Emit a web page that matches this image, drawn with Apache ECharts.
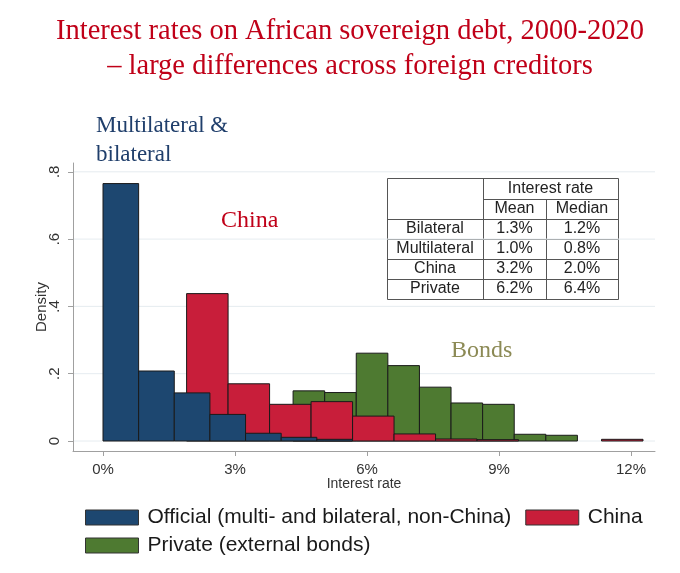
<!DOCTYPE html>
<html>
<head>
<meta charset="utf-8">
<script src="https://cdn.jsdelivr.net/npm/echarts@6/dist/echarts.min.js"></script>
<style>
  html, body { margin: 0; padding: 0; background: #fff; }
  #chart { width: 680px; height: 573px; }
</style>
</head>
<body>
<div id="chart"></div>
<script>
/* Histogram of interest rates by creditor type */

// bins: start (%), width (%), density per bin
const officialStart = 0.0, officialWidth = 0.81;
const officialDensity = [0.765, 0.208, 0.143, 0.079, 0.023, 0.011, 0.005];

const chinaStart = 1.9, chinaWidth = 0.943;
const chinaDensity = [0.438, 0.170, 0.109, 0.117, 0.074, 0.021, 0.006, 0.004, 0, 0, 0.005];

const privateStart = 4.32, privateWidth = 0.718;
const privateDensity = [0.149, 0.144, 0.261, 0.224, 0.160, 0.113, 0.109, 0.020, 0.017];

const xTicks = [0, 3, 6, 9, 12];
const yTicks = [0, 0.2, 0.4, 0.6, 0.8];

const seriesNames = ['Official (multi- and bilateral, non-China)', 'China', 'Private (external bonds)'];

// summary table
const tableRows = ['Bilateral', 'Multilateral', 'China', 'Private'];
const tableMean = ['1.3%', '1.0%', '3.2%', '6.2%'];
const tableMedian = ['1.2%', '0.8%', '2.0%', '6.4%'];

const SANS = "'Liberation Sans', Arial, sans-serif";
const SERIF = "'Liberation Serif', 'Times New Roman', serif";

function bins(start, width, heights) {
    return heights.map((h, i) => [start + i * width, start + (i + 1) * width, h]);
}

function histItem(params, api) {
    let h = api.value(2);
    if (!h) return null;
    let p0 = api.coord([api.value(0), h]);
    let p1 = api.coord([api.value(1), 0]);
    return {
        type: 'rect',
        shape: { x: p0[0], y: p0[1], width: p1[0] - p0[0], height: p1[1] - p0[1] },
        style: { fill: api.visual('color'), stroke: '#1a1a1a', lineWidth: 1 }
    };
}

function gridLine(params, api) {
    let y = api.coord([0, api.value(1)])[1];
    let cs = params.coordSys;
    return {
        type: 'line',
        shape: { x1: cs.x, y1: y, x2: cs.x + cs.width, y2: y },
        style: { stroke: '#e6ecf0', lineWidth: 1 }
    };
}

function histSeries(name, color, data, z) {
    return {
        name: name,
        type: 'custom',
        renderItem: histItem,
        data: data,
        encode: { x: [0, 1], y: 2 },
        itemStyle: { color: color, borderColor: '#1a1a1a', borderWidth: 1 },
        z: z,
        silent: true
    };
}

// table drawn as graphic elements
const tX = [387, 483, 546, 618];
const tY = 178, rowH = 20;
let tableEls = [];
tableEls.push({ type: 'rect', shape: { x: tX[0] + 0.5, y: tY + 0.5, width: tX[3] - tX[0], height: rowH * 6 + 1 },
    style: { fill: '#fff', stroke: '#555', lineWidth: 1 } });
tableEls.push({ type: 'line', shape: { x1: tX[1] + 0.5, y1: tY, x2: tX[1] + 0.5, y2: tY + rowH * 6 + 1 }, style: { stroke: '#555' } });
tableEls.push({ type: 'line', shape: { x1: tX[2] + 0.5, y1: tY + rowH + 1, x2: tX[2] + 0.5, y2: tY + rowH * 6 + 1 }, style: { stroke: '#555' } });
tableEls.push({ type: 'line', shape: { x1: tX[1], y1: tY + rowH + 1.5, x2: tX[3], y2: tY + rowH + 1.5 }, style: { stroke: '#555' } });
for (let r = 2; r < 6; r++) {
    tableEls.push({ type: 'line', shape: { x1: tX[0], y1: tY + rowH * r + 1.5, x2: tX[3], y2: tY + rowH * r + 1.5 }, style: { stroke: '#555' } });
}
function cell(text, x, y) {
    return { type: 'text', x: x, y: y,
        style: { text: text, font: '16px ' + SANS, fill: '#222', align: 'center', verticalAlign: 'middle' } };
}
tableEls.push(cell('Interest rate', (tX[1] + tX[3]) / 2, tY + 11));
tableEls.push(cell('Mean', (tX[1] + tX[2]) / 2, tY + 31));
tableEls.push(cell('Median', (tX[2] + tX[3]) / 2, tY + 31));
tableRows.forEach((name, i) => {
    let cy = tY + rowH * (i + 2) + 11;
    tableEls.push(cell(name, (tX[0] + tX[1]) / 2, cy));
    tableEls.push(cell(tableMean[i], (tX[1] + tX[2]) / 2, cy));
    tableEls.push(cell(tableMedian[i], (tX[2] + tX[3]) / 2, cy));
});

let chartDom = document.getElementById('chart');
let myChart = echarts.init(chartDom);

let titleStyle = { font: '28.5px ' + SERIF, fill: '#c00018', align: 'center', verticalAlign: 'middle' };

let option = {
    backgroundColor: '#fff',
    animation: false,
    grid: { left: 73, right: 25, top: 163, bottom: 122 },
    xAxis: {
        type: 'value',
        min: -30 / 44,
        max: 552 / 44,
        name: 'Interest rate',
        nameLocation: 'middle',
        nameGap: 26,
        nameMoveOverlap: false,
        nameTextStyle: { fontFamily: SANS, fontSize: 14, color: '#333' },
        axisLine: { onZero: false, lineStyle: { color: '#a0a0a0', width: 1 } },
        axisTick: { customValues: xTicks, length: 5, lineStyle: { color: '#a0a0a0' } },
        axisLabel: { customValues: xTicks, formatter: v => v + '%', margin: 11,
            fontFamily: SANS, fontSize: 15, color: '#333' },
        splitLine: { show: false }
    },
    yAxis: {
        type: 'value',
        min: -10 / 336.5,
        max: 278 / 336.5,
        name: 'Density',
        nameLocation: 'middle',
        nameGap: 24,
        nameMoveOverlap: false,
        nameTextStyle: { fontFamily: SANS, fontSize: 15, color: '#333' },
        axisLine: { onZero: false, lineStyle: { color: '#a0a0a0', width: 1 } },
        axisTick: { customValues: yTicks, length: 5, lineStyle: { color: '#a0a0a0' } },
        axisLabel: { customValues: yTicks, rotate: 90, margin: 11,
            formatter: v => v === 0 ? '0' : '.' + Math.round(v * 10),
            fontFamily: SANS, fontSize: 15, color: '#333' },
        splitLine: { show: false }
    },
    legend: [
        {
            data: [seriesNames[0], seriesNames[1]],
            left: 80, top: 500,
            icon: 'rect', itemWidth: 53, itemHeight: 15, itemGap: 14,
            itemStyle: { borderColor: '#333', borderWidth: 1 },
            textStyle: { fontFamily: SANS, fontSize: 21, color: '#1a1a1a', lineHeight: 25, padding: [0, 0, 0, 4] }
        },
        {
            data: [seriesNames[2]],
            left: 80, top: 528,
            icon: 'rect', itemWidth: 53, itemHeight: 15,
            itemStyle: { borderColor: '#333', borderWidth: 1 },
            textStyle: { fontFamily: SANS, fontSize: 21, color: '#1a1a1a', lineHeight: 25, padding: [0, 0, 0, 4] }
        }
    ],
    graphic: [
        { type: 'text', x: 350, y: 32,
          style: Object.assign({ text: 'Interest rates on African sovereign debt, 2000-2020' }, titleStyle) },
        { type: 'text', x: 350, y: 67,
          style: Object.assign({ text: '– large differences across foreign creditors' }, titleStyle) },
        { type: 'text', left: 96, top: 111,
          style: { text: 'Multilateral &\nbilateral', font: '23px ' + SERIF, fill: '#1f3e6b', lineHeight: 29 } },
        { type: 'text', left: 221, top: 209,
          style: { text: 'China', font: '24px ' + SERIF, fill: '#c00018' } },
        { type: 'text', left: 451, top: 339,
          style: { text: 'Bonds', font: '24px ' + SERIF, fill: '#8c8a55' } },
        { type: 'group', z: 100, children: tableEls }
    ],
    series: [
        {
            type: 'custom',
            renderItem: gridLine,
            data: yTicks.map(v => [0, v]),
            encode: { x: 0, y: 1 },
            z: 0,
            silent: true
        },
        histSeries(seriesNames[2], '#4e7a31', bins(privateStart, privateWidth, privateDensity), 2),
        histSeries(seriesNames[1], '#c81e3a', bins(chinaStart, chinaWidth, chinaDensity), 3),
        histSeries(seriesNames[0], '#1d4770', bins(officialStart, officialWidth, officialDensity), 4)
    ]
};

option && myChart.setOption(option);

window.addEventListener('resize', () => {
    myChart.resize();
});
</script>
</body>
</html>
